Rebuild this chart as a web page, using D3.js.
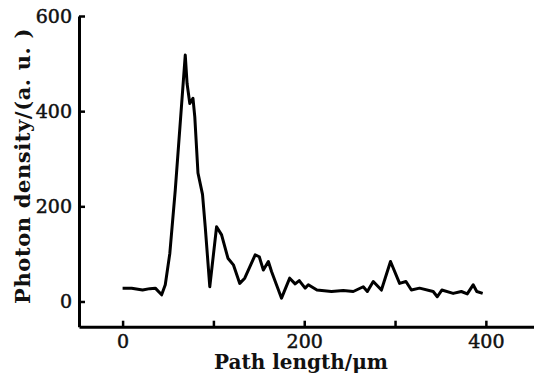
<!DOCTYPE html>
<html>
<head>
<meta charset="utf-8">
<style>
body { margin: 0; background: #fff; }
.axis .domain { stroke: #000; stroke-width: 3; }
.axis .tick line { stroke: #000; stroke-width: 2.5; }
.axis text { font-family: "DejaVu Serif", serif; font-size: 19px; fill: #111; stroke: #111; stroke-width: 0.5; }
.label { font-family: "DejaVu Serif", serif; font-weight: bold; fill: #111; }
</style>
</head>
<body>
<svg width="534" height="376"></svg>
<script src="https://cdn.jsdelivr.net/npm/d3@7/dist/d3.min.js"></script>
<script>

// path length (um) and photon density (a.u.)
var pathLength = [0, 10, 22, 30, 36, 43, 47, 52, 58, 69, 71, 74, 77.5, 79.5, 83, 88, 91, 96,
  103.5, 109, 116, 122, 129, 134.5, 146, 150.5, 155, 160.5, 164, 175, 184, 190, 194.5, 201,
  204.5, 214, 230, 243, 254, 265, 269.5, 276, 285, 295, 305, 312, 318, 327, 342, 346.5,
  351.5, 364, 373, 379.5, 386, 390, 396.5];
var density = [28, 28, 24, 27, 28, 14, 35, 101, 234, 518, 458, 416, 427, 388, 270, 225, 157, 31,
  157, 140, 91, 77, 38, 49, 98, 94, 66, 84, 63, 7, 49, 37, 44, 28,
  35, 24, 21, 23, 21, 31, 21, 42, 24, 84, 38, 42, 24, 28, 21, 10,
  24, 17, 21, 16, 35, 21, 17];

var xTicks = [0, 100, 200, 300, 400];
var yTicks = [0, 200, 400, 600];

var svg = d3.select("svg");

var x = d3.scaleLinear().domain([-48, 453]).range([79, 534]);
var y = d3.scaleLinear().domain([-53, 600]).range([326.7, 16]);

var data = pathLength.map(function(d, i) { return {x: d, y: density[i]}; });

var line = d3.line()
    .x(function(d) { return x(d.x); })
    .y(function(d) { return y(d.y); });

svg.append("path")
    .datum(data)
    .attr("fill", "none")
    .attr("stroke", "#000")
    .attr("stroke-width", 3)
    .attr("stroke-linejoin", "round")
    .attr("d", line);

svg.append("g")
    .attr("class", "axis")
    .attr("transform", "translate(0," + y(-53) + ")")
    .call(d3.axisBottom(x)
      .tickValues(xTicks)
      .tickSizeInner(-6).tickSizeOuter(0).tickPadding(8)
      .tickFormat(function(d) { return d % 200 === 0 ? d : ""; }));

svg.append("g")
    .attr("class", "axis")
    .attr("transform", "translate(" + x(-48) + ",0)")
    .call(d3.axisLeft(y)
      .tickValues(yTicks)
      .tickSizeInner(-6).tickSizeOuter(0).tickPadding(7));

svg.append("text")
    .attr("class", "label")
    .attr("x", 301)
    .attr("y", 369)
    .attr("text-anchor", "middle")
    .attr("font-size", 20)
    .text("Path length/\u03bcm");

svg.append("text")
    .attr("class", "label")
    .attr("transform", "translate(30,166) rotate(-90)")
    .attr("text-anchor", "middle")
    .attr("font-size", 21)
    .attr("letter-spacing", 0.6)
    .text("Photon density/(a. u. )");

</script>
</body>
</html>
